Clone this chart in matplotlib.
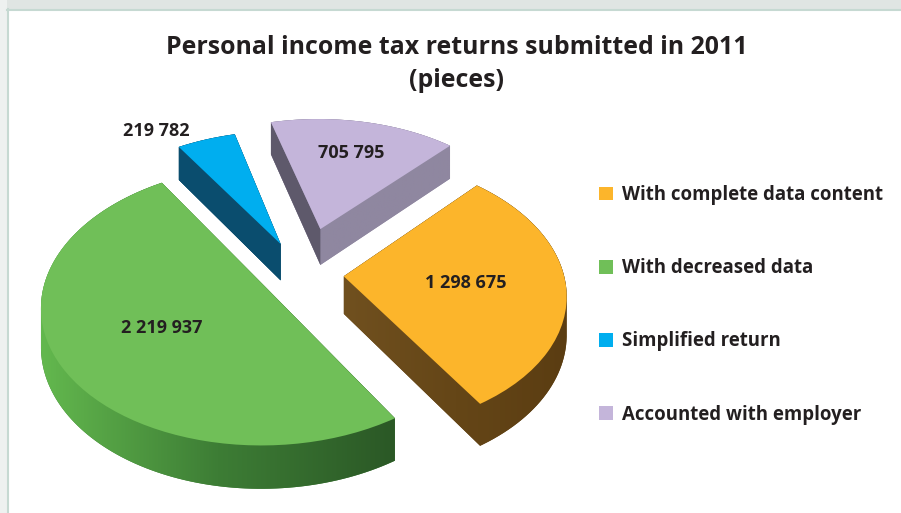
import numpy as np
import matplotlib
matplotlib.use("Agg")
import matplotlib.pyplot as plt
import matplotlib.transforms as mtransforms
from matplotlib.patches import Polygon, Rectangle
from matplotlib.lines import Line2D
from matplotlib.colors import LinearSegmentedColormap

# ---- data ----
categories = ["With complete data content", "With decreased data",
              "Simplified return", "Accounted with employer"]
returns = [1298675, 2219937, 219782, 705795]

# ---- style ----
top_colors = ["#fcb52b", "#70bf58", "#00aeef", "#c4b5da"]
side_colors = [("#70501f", "#654617", "#5b3d12"),
               ("#63b84e", "#3d7d35", "#2b5826"),
               ("#0a4d6e", "#0a4d6e", "#0a4d6e"),
               ("#8f87a0", "#8f87a0", "#8f87a0")]
wall_colors = ["#6a4a1c", "#3d7a34", "#0a4d6e", "#5e596b"]
explode = [0.19, 0.19, 0.25, 0.36]
label_dist = [0.55, 0.53, 1.2, 0.69]
label_turn = [0, 0, 10, 0]

TILT = 0.61      # squash of the pie plane
VIEW = 8.0       # viewer distance (perspective)
DEPTH = 0.17     # pie thickness
SCALE = 220      # pixels per pie radius
CX, CY = 302, 274  # pie centre, pixels from top-left
W, H = 901, 513
FONT = ["Open Sans", "DejaVu Sans"]
TEXT = "#231f20"


class Tilt(mtransforms.Transform):
    """Pie plane -> screen, with a bit of perspective and a drop for depth."""
    input_dims = output_dims = 2

    def __init__(self, drop=0.0):
        super().__init__()
        self.drop = drop

    def transform_non_affine(self, xy):
        xy = np.asarray(xy, dtype=float)
        f = VIEW / (VIEW + xy[:, 1])
        return np.column_stack([xy[:, 0] * f, (xy[:, 1] * TILT - self.drop) * f])


def convex_hull(points):
    pts = sorted(set(map(tuple, np.round(points, 6))))

    def cross(o, a, b):
        return (a[0] - o[0]) * (b[1] - o[1]) - (a[1] - o[1]) * (b[0] - o[0])

    lower, upper = [], []
    for p in pts:
        while len(lower) >= 2 and cross(lower[-2], lower[-1], p) <= 0:
            lower.pop()
        lower.append(p)
    for p in reversed(pts):
        while len(upper) >= 2 and cross(upper[-2], upper[-1], p) <= 0:
            upper.pop()
        upper.append(p)
    return np.array(lower[:-1] + upper[:-1])


fig = plt.figure(figsize=(W / 100, H / 100), dpi=100)
ax = fig.add_axes([0, 0, 1, 1])

wedges, _ = ax.pie(returns, colors=top_colors, explode=explode, startangle=47.4,
                   counterclock=False, wedgeprops=dict(linewidth=0))

top_tf = Tilt(0.0)
low_tf = Tilt(DEPTH)
fine = mtransforms.Affine2D().scale(1000)

for i, w in enumerate(wedges):
    pts = w.get_path().to_polygons(transform=fine)[0] / 1000
    hull = convex_hull(np.vstack([top_tf.transform(pts), low_tf.transform(pts)]))
    side = Polygon(hull, closed=True, facecolor=side_colors[i][1],
                   edgecolor="none", zorder=1)
    ax.add_patch(side)
    cmap = LinearSegmentedColormap.from_list(f"side{i}", side_colors[i])
    im = ax.imshow(np.linspace(0, 1, 256)[None, :], cmap=cmap, aspect="auto",
                   extent=(hull[:, 0].min(), hull[:, 0].max(),
                           hull[:, 1].min(), hull[:, 1].max()), zorder=1.5)
    im.set_clip_path(side)

    # cut face on the theta2 edge, if it faces the viewer
    t2 = np.deg2rad(w.theta2)
    if np.cos(t2) < 0:
        c = np.array([w.center])
        e = c + w.r * np.array([[np.cos(t2), np.sin(t2)]])
        quad = np.vstack([top_tf.transform(c), top_tf.transform(e),
                          low_tf.transform(e), low_tf.transform(c)])
        ax.add_patch(Polygon(quad, closed=True, facecolor=wall_colors[i],
                             edgecolor="none", zorder=2))

    w.set_transform(top_tf + ax.transData)
    w.set_zorder(3)

    ang = np.deg2rad((w.theta1 + w.theta2) / 2 + label_turn[i])
    p = np.array([[w.center[0] + label_dist[i] * np.cos(ang),
                   w.center[1] + label_dist[i] * np.sin(ang)]])
    x, y = top_tf.transform(p)[0]
    ax.text(x, y, f"{returns[i]:,}".replace(",", " "), ha="center", va="center",
            fontsize=13, fontweight="bold", family=FONT, color=TEXT, zorder=4)

ax.set_aspect("auto")
ax.set_xlim(-CX / SCALE, (W - CX) / SCALE)
ax.set_ylim(-(H - CY) / SCALE, CY / SCALE)
ax.axis("off")

leg = ax.legend(wedges, categories, loc="upper left",
                bbox_to_anchor=(599 / W, 1 - 185 / H), bbox_transform=fig.transFigure,
                frameon=False, handlelength=0.75, handleheight=0.75,
                handletextpad=0.5, labelspacing=2.86, borderpad=0, borderaxespad=0,
                prop=dict(family=FONT, weight="bold", size=13.4))
for t in leg.get_texts():
    t.set_color(TEXT)

fig.text(457 / W, 1 - 64 / H, "Personal income tax returns submitted in 2011\n(pieces)",
         ha="center", va="center", fontsize=17.9, fontweight="bold", family=FONT,
         color=TEXT, linespacing=1.4)

# page frame
fig.add_artist(Rectangle((0, 1 - 9 / H), 1, 9 / H, transform=fig.transFigure,
                         facecolor="#e0e5e3", edgecolor="none"))
fig.add_artist(Rectangle((0, 0), 7 / W, 1, transform=fig.transFigure,
                         facecolor="#eef1f0", edgecolor="none"))
fig.add_artist(Line2D([7 / W, 1], [1 - 9.5 / H] * 2, transform=fig.transFigure,
                      color="#c6d9d2", lw=1.5))
fig.add_artist(Line2D([7.5 / W] * 2, [0, 1 - 9 / H], transform=fig.transFigure,
                      color="#c6d9d2", lw=1.5))

fig.savefig("out.png", dpi=100)
